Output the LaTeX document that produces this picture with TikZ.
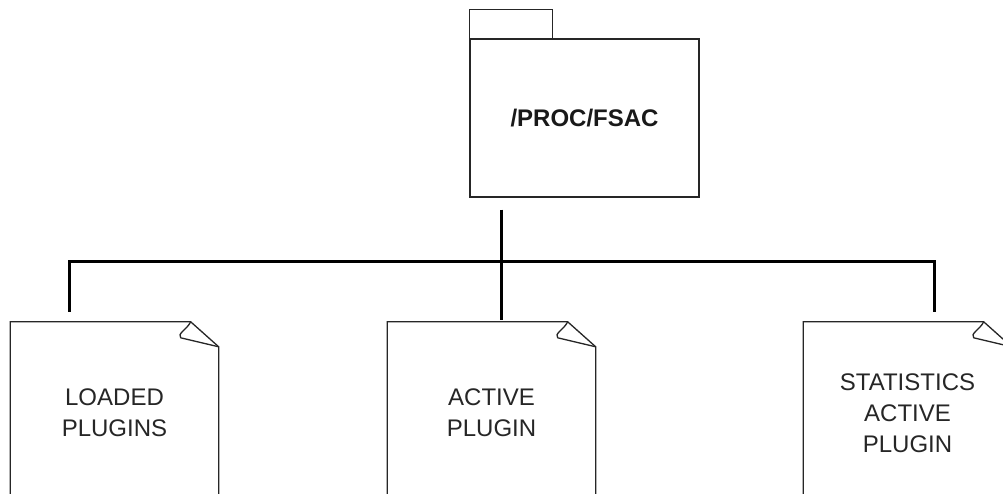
\documentclass[tikz,border=0pt]{standalone}
\usepackage{fontspec}
\setmainfont{Liberation Sans}
\begin{document}
\begin{tikzpicture}[x=1pt,y=-1pt,
  outline/.style={draw=black!85, line width=1.3pt},
  conn/.style={line width=3pt, draw=black},
  folderbody/.style={outline, minimum width=229pt, minimum height=158pt, inner sep=0pt,
    font=\fontsize{24}{29}\selectfont\bfseries, text=black!90},
  docbox/.style={minimum width=208pt, minimum height=182pt, inner sep=0pt, align=center,
    font=\fontsize{24}{31}\selectfont, text=black!85}]
  \clip (0,0) rectangle (1003,493);
  \fill[white] (0,0) rectangle (1003,493);

  % folder
  \node[folderbody] (proc) at (584.5,118) {/PROC/FSAC};
  \draw[outline] (proc.north west) -- ++(0,-29) -- ++(83,0) -- ++(0,29);

  % documents
  \node[docbox] (loaded) at (114.5,413) {LOADED\\PLUGINS};
  \node[docbox] (act)    at (491.5,413) {ACTIVE\\PLUGIN};
  \node[docbox] (stats)  at (907.5,413) {STATISTICS\\ACTIVE\\PLUGIN};

  \foreach \d in {loaded,act,stats}{
    \draw[outline] (\d.south west) -- (\d.north west) -- ([xshift=-28pt]\d.north east)
      -- ([yshift=-25pt]\d.north east) -- (\d.south east);
    \draw[outline, line join=round] ([xshift=-28pt]\d.north east)
      .. controls ([xshift=-32pt,yshift=-8pt]\d.north east) and ([xshift=-42pt,yshift=-12pt]\d.north east)
      .. ([xshift=-38pt,yshift=-16pt]\d.north east) -- ([yshift=-25pt]\d.north east);
  }

  % connectors
  \coordinate (jm) at (501,261);
  \coordinate (jl) at (69,261);
  \coordinate (jr) at (934,261);
  \draw[conn] ([yshift=-12pt]jm |- proc.south) -- ([yshift=2pt]jm |- act.north);
  \draw[conn] ([yshift=10pt]jl |- loaded.north) -- (jl) -- (jr) -- ([yshift=10pt]jr |- stats.north);
\end{tikzpicture}
\end{document}
